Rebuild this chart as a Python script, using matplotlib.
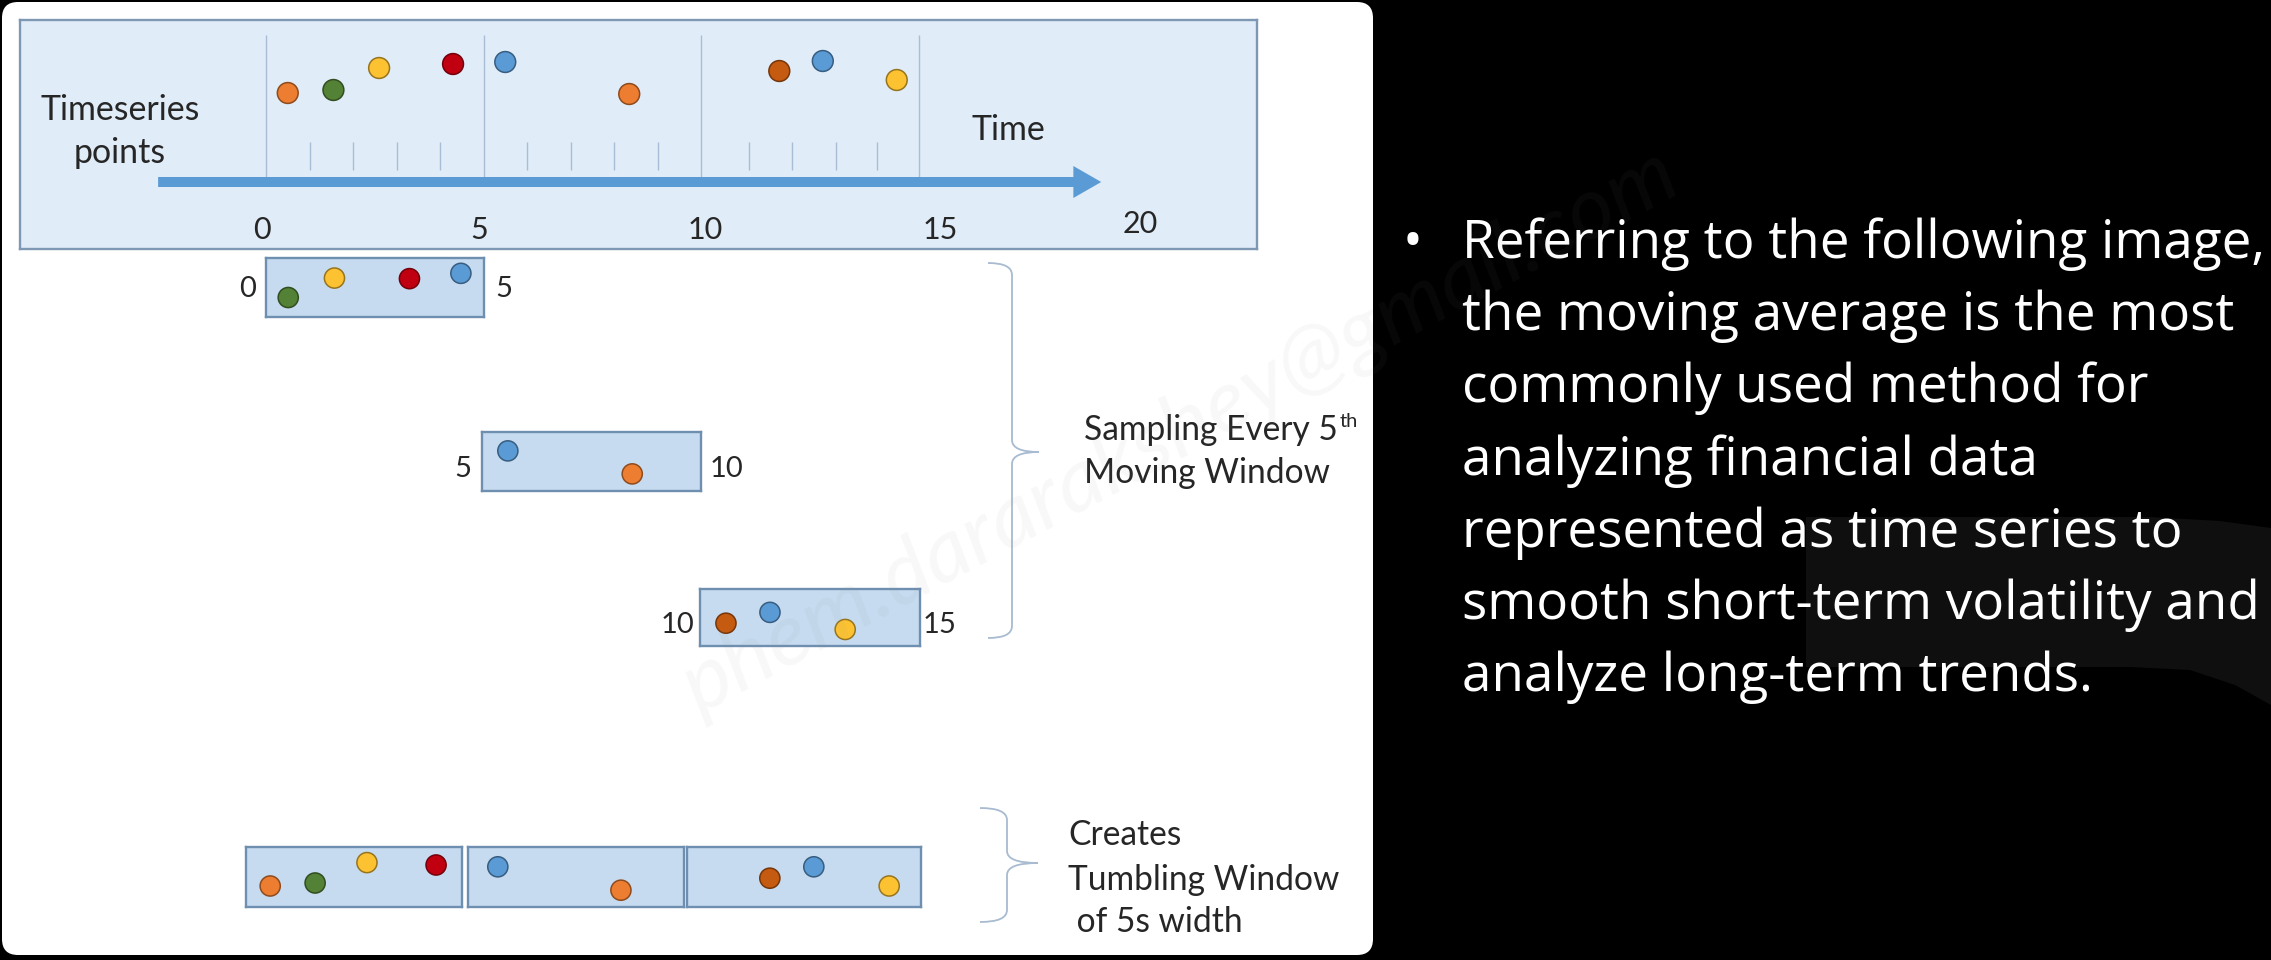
import matplotlib
matplotlib.use('Agg')
import matplotlib.pyplot as plt
from matplotlib.patches import FancyBboxPatch, Polygon, PathPatch
from matplotlib.path import Path
from matplotlib.colors import to_rgb

plt.rcParams['font.family'] = ['Lato', 'DejaVu Sans']

# ---------------- data ----------------
palette = {'orange': '#ED7D31', 'green': '#538135', 'yellow': '#FCC232',
           'red': '#C00010', 'blue': '#5B9BD5', 'rust': '#C55A11'}

series_times = [0.5, 1.55, 2.6, 4.3, 5.5, 8.35, 11.8, 12.8, 14.5]
series_heights = [8.9, 9.2, 11.4, 11.8, 12.0, 8.8, 11.1, 12.1, 10.2]
series_colors = ['orange', 'green', 'yellow', 'red', 'blue', 'orange', 'rust', 'blue', 'yellow']

axis_tick_labels = ['0', '5', '10', '15', '20']
axis_label_pos = [-0.1, 4.9, 10.1, 15.5, 20.1]
major_lines = [0, 5, 10, 15]
minor_ticks = [1, 2, 3, 4, 6, 7, 8, 9, 11.1, 12.1, 13.1, 14.05]

window_ranges = [(0, 5), (5, 10), (10, 15)]
window_times = [[0.51, 1.57, 3.29, 4.47], [5.59, 8.43], [10.59, 11.59, 13.3]]
window_heights = [[0.33, 0.66, 0.65, 0.74], [0.68, 0.29], [0.40, 0.59, 0.29]]
window_colors = [['green', 'yellow', 'red', 'blue'], ['blue', 'orange'], ['rust', 'blue', 'yellow']]

tumble_ranges = [(0, 5), (5, 10), (10, 15)]
tumble_times = [[0.56, 1.6, 2.8, 4.4], [5.69, 8.54], [11.77, 12.71, 14.32]]
tumble_heights = [[0.35, 0.40, 0.74, 0.70], [0.67, 0.28], [0.48, 0.67, 0.35]]
tumble_colors = [['orange', 'green', 'yellow', 'red'], ['blue', 'orange'], ['rust', 'blue', 'yellow']]

panel_label = ['Timeseries', 'points']
time_label = 'Time'
sampling_label = ['Sampling Every 5', 'th', 'Moving Window']
tumbling_label = ['Creates', 'Tumbling Window', ' of 5s width']
bullet_lines = ['Referring to the following image,',
                'the moving average is the most',
                'commonly used method for',
                'analyzing financial data',
                'represented as time series to',
                'smooth short-term volatility and',
                'analyze long-term trends.']
watermark = 'phem.dararakshey@gmail.com'

# ---------------- layout ----------------
W, H, DPI = 2271, 960, 100
TXT = '#262626'
fig = plt.figure(figsize=(W / DPI, H / DPI), dpi=DPI, facecolor='black')
renderer = fig.canvas.get_renderer()

bg = fig.add_axes([0, 0, 1, 1])
bg.set_xlim(0, W)
bg.set_ylim(H, 0)
bg.axis('off')

bg.add_patch(FancyBboxPatch((2, 2), 1371, 953, boxstyle='round,pad=0,rounding_size=16',
                            fc='white', ec='none', zorder=0))
bg.add_patch(Polygon([(1806, 517), (2150, 517), (2220, 521), (2271, 528), (2271, 705),
                      (2235, 685), (2190, 670), (2130, 667), (1806, 667)],
                     closed=True, fc='#0f0f0f', ec='none', zorder=0))


def px_axes(x0, y0, x1, y1):
    return fig.add_axes([x0 / W, 1 - y1 / H, (x1 - x0) / W, (y1 - y0) / H])


def fit(ax, x, y, s, width, base=20, **kw):
    t = ax.text(x, y, s, fontsize=base, **kw)
    w = t.get_window_extent(renderer).width
    t.set_fontsize(base * width / w)
    return t


def edge_of(c):
    r, g, b = to_rgb(c)
    return (r * 0.6, g * 0.6, b * 0.6)


def dots(ax, ts, hs, cs, size):
    cols = [palette[c] for c in cs]
    ax.scatter(ts, hs, s=size ** 2, c=cols, edgecolors=[edge_of(c) for c in cols],
               linewidths=1.1, zorder=4, clip_on=False)


def style_box(ax, fc, ec):
    ax.set_facecolor(fc)
    ax.set_xticks([])
    ax.set_yticks([])
    for sp in ax.spines.values():
        sp.set_color(ec)
        sp.set_linewidth(1.7)


# ---- top timeline panel ----
T0, TU = 266, 43.5   # px of t=0, px per second
AY, YU = 182, 10     # px of arrow, px per height unit
top = px_axes(20, 20, 1257, 249)
top.set_xlim((20 - T0) / TU, (1257 - T0) / TU)
top.set_ylim((AY - 249) / YU, (AY - 20) / YU)
style_box(top, '#E0ECF8', '#7E97B2')
top.vlines(major_lines, 0, 14.7, color='#A9BDD4', lw=1.0, zorder=1)
top.vlines(minor_ticks, 1.2, 4.0, color='#A9BDD4', lw=1.0, zorder=1)
top.arrow(-2.48, 0, 21.68, 0, width=1.0, head_width=3.2, head_length=0.64,
          length_includes_head=True, fc='#5B9BD5', ec='none', zorder=2)
dots(top, series_times, series_heights, series_colors, 15)
label_base = [-5.7, -5.7, -5.7, -5.7, -5.1]
for pos, lab, yb in zip(axis_label_pos, axis_tick_labels, label_base):
    top.text(pos, yb, lab, ha='center', va='baseline', fontsize=22, color=TXT)

# texts inside the top panel, positioned in pixel units but owned by the panel axes
t1 = fit(top, 120, 120, panel_label[0], 160, ha='center', va='baseline', color=TXT,
         transform=bg.transData)
top.text(120, 163, panel_label[1], ha='center', va='baseline', color=TXT,
         fontsize=t1.get_fontsize(), transform=bg.transData)
top.text(1008, 140, time_label, ha='center', va='baseline', color=TXT,
         fontsize=t1.get_fontsize(), transform=bg.transData)

# ---- sampling windows ----
win_px = [(266, 258, 484, 317), (482, 432, 701, 491), (700, 589, 920, 646)]
lab_base = [297, 477, 633]
gap_l = [10, 11, 6]
gap_r = [11, 9, 3]
for i, ((x0, y0, x1, y1), rng) in enumerate(zip(win_px, window_ranges)):
    a = px_axes(x0, y0, x1, y1)
    a.set_xlim(*rng)
    a.set_ylim(0, 1)
    style_box(a, '#C6DBEF', '#6F8FB0')
    dots(a, window_times[i], window_heights[i], window_colors[i], 14.5)
    bg.text(x0 - gap_l[i], lab_base[i], str(rng[0]), ha='right', va='baseline', fontsize=21, color=TXT)
    bg.text(x1 + gap_r[i], lab_base[i], str(rng[1]), ha='left', va='baseline', fontsize=21, color=TXT)

# ---- tumbling windows ----
tum_px = [(246, 847, 462, 907), (468, 847, 684, 907), (687, 847, 921, 907)]
for i, ((x0, y0, x1, y1), rng) in enumerate(zip(tum_px, tumble_ranges)):
    a = px_axes(x0, y0, x1, y1)
    a.set_xlim(*rng)
    a.set_ylim(0, 1)
    style_box(a, '#C6DBEF', '#6F8FB0')
    dots(a, tumble_times[i], tumble_heights[i], tumble_colors[i], 14.5)


# ---- braces ----
def brace(ax, xl, xm, xt, y0, yc, y1, r=12, **kw):
    M, C, L = Path.MOVETO, Path.CURVE3, Path.LINETO
    verts = [(xl, y0), (xm, y0), (xm, y0 + r), (xm, yc - r), (xm, yc), (xt, yc),
             (xm, yc), (xm, yc + r), (xm, y1 - r), (xm, y1), (xl, y1)]
    codes = [M, C, C, L, C, C, C, C, L, C, C]
    ax.add_patch(PathPatch(Path(verts, codes), fill=False, **kw))


brace(bg, 988, 1012, 1039, 263, 452, 638, ec='#A8BBD0', lw=1.3)
brace(bg, 980, 1007, 1038, 808, 863, 922, ec='#A8BBD0', lw=1.3)

m = fit(bg, 1084, 483, sampling_label[2], 246, ha='left', va='baseline', color=TXT)
fs = m.get_fontsize()
s1 = bg.text(1084, 440, sampling_label[0], ha='left', va='baseline', color=TXT, fontsize=fs)
bg.annotate(sampling_label[1], xy=(1, 1), xycoords=s1, xytext=(1, 1), textcoords='offset points',
            ha='left', va='top', fontsize=fs * 0.6, color=TXT)

tw = fit(bg, 1068, 890, tumbling_label[1], 272, ha='left', va='baseline', color=TXT)
fs2 = tw.get_fontsize()
bg.text(1068, 845, tumbling_label[0], ha='left', va='baseline', color=TXT, fontsize=fs2)
bg.text(1068, 932, tumbling_label[2], ha='left', va='baseline', color=TXT, fontsize=fs2)

# ---- right side text ----
l1 = fit(bg, 1462, 257.6, bullet_lines[0], 802, ha='left', va='baseline', color='white',
         family=['Open Sans', 'DejaVu Sans'])
bfs = l1.get_fontsize()
for k, line in enumerate(bullet_lines[1:], start=1):
    bg.text(1462, 257.6 + 72.3 * k, line, ha='left', va='baseline', color='white',
            fontsize=bfs, family=['Open Sans', 'DejaVu Sans'])
bg.text(1413, 257.6, '\u2022', ha='center', va='baseline', color='white', fontsize=bfs,
        family=['Open Sans', 'DejaVu Sans'])

# ---- watermark ----
wm = fig.text(1180 / W, 1 - 432 / H, watermark, ha='center', va='center', fontsize=40,
              style='italic', color='#8c8c8c', alpha=0.06, zorder=10)
ww = wm.get_window_extent(renderer).width
wm.set_fontsize(40 * 1114 / ww)
wm.set_rotation(28)
wm.set_rotation_mode('anchor')

fig.savefig('out.png', dpi=DPI, facecolor='black')
